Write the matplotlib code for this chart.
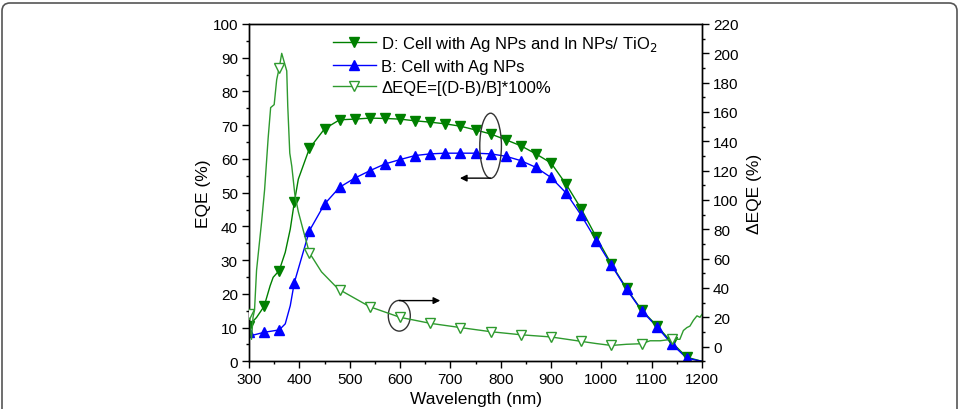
import matplotlib
matplotlib.use("Agg")
import matplotlib.pyplot as plt
from matplotlib.lines import Line2D
from matplotlib.patches import Ellipse, FancyBboxPatch
from matplotlib.ticker import MultipleLocator

plt.rcParams['font.family'] = ['Liberation Sans', 'DejaVu Sans']

# ---- data ----
mk_x = [300, 330, 360, 390, 420, 450, 480, 510, 540, 570, 600, 630, 660, 690, 720,
        750, 780, 810, 840, 870, 900, 930, 960, 990, 1020, 1050, 1080, 1110, 1140, 1170]
d_mk = [10.6, 16.3, 26.9, 47.1, 63.1, 68.9, 71.6, 71.8, 72.1, 72.0, 71.8, 71.3, 70.9, 70.4, 69.7,
        68.6, 67.4, 65.7, 63.9, 61.5, 58.8, 52.5, 45.2, 36.8, 28.8, 21.6, 15.2, 10.6, 5.6, 1.2]
b_mk = [8.6, 8.6, 9.3, 23.3, 38.7, 46.6, 51.6, 54.3, 56.5, 58.5, 59.8, 61.0, 61.5, 61.7, 61.7,
        61.7, 61.5, 60.8, 59.5, 57.5, 54.5, 49.9, 43.3, 35.8, 28.5, 21.4, 15.0, 10.3, 5.1, 0.9]

d_line_x = [300, 315, 330, 342, 348, 360, 372, 382, 390, 398, 420, 450, 480, 510, 540, 570, 600,
            630, 660, 690, 720, 750, 780, 810, 840, 870, 900, 930, 960, 990, 1020, 1050, 1080,
            1110, 1140, 1170, 1200]
d_line = [10.6, 13.0, 16.3, 22.4, 24.9, 26.9, 32.3, 39.2, 47.1, 54.0, 63.1, 68.9, 71.6, 71.8,
          72.1, 72.0, 71.8, 71.3, 70.9, 70.4, 69.7, 68.6, 67.4, 65.7, 63.9, 61.5, 58.8, 52.5,
          45.2, 36.8, 28.8, 21.6, 15.2, 10.6, 5.6, 1.2, 0.0]
b_line_x = [300, 304, 330, 360, 372, 382, 390, 420, 450, 480, 510, 540, 570, 600, 630, 660,
            690, 720, 750, 780, 810, 840, 870, 900, 930, 960, 990, 1020, 1050, 1080, 1110,
            1140, 1170, 1200]
b_line = [8.6, 7.6, 8.6, 9.3, 11.1, 16.5, 23.3, 38.7, 46.6, 51.6, 54.3, 56.5, 58.5, 59.8,
          61.0, 61.5, 61.7, 61.7, 61.7, 61.5, 60.8, 59.5, 57.5, 54.5, 49.9, 43.3, 35.8,
          28.5, 21.4, 15.0, 10.3, 5.1, 0.9, 0.0]

de_line_x = [300, 303, 305, 308, 311, 315, 318, 325, 331, 338, 343, 350, 355, 360, 365, 370,
             375, 377, 381, 385, 391, 398, 408, 420, 444, 471, 480, 540, 600, 660, 720, 780,
             840, 900, 960, 990, 1020, 1050, 1080, 1097, 1117, 1140, 1156, 1163, 1170, 1176,
             1183, 1190, 1196, 1200]
de_line = [22, 10, 5, 20, 25, 52, 62, 85, 107, 142, 163, 165, 182, 190, 200, 194, 188, 164,
           132, 123, 104, 92, 79, 64, 51, 41.5, 38.8, 27.2, 20.0, 15.9, 13.0, 10.2, 8.1, 6.6,
           3.6, 2.1, 0.8, 1.6, 2.0, 4.0, 4.0, 5.0, 5.0, 11, 13, 14, 18, 21, 20, 22]
de_mk_x = [300, 360, 420, 480, 540, 600, 660, 720, 780, 840, 900, 960, 1020, 1080, 1140]
de_mk = [22, 190, 64, 38.8, 27.2, 20.0, 15.9, 13.0, 10.2, 8.1, 6.6, 3.6, 0.8, 2.0, 5.0]

labels = ["D: Cell with Ag NPs and In NPs/ TiO$_2$",
          "B: Cell with Ag NPs",
          "\u0394EQE=[(D-B)/B]*100%"]

# ---- styles ----
c_d = '#008000'
c_b = '#0000ff'
c_de = '#2e9a2e'
ms = 7.5

fig = plt.figure(figsize=(9.59, 4.10), dpi=100)
ax = fig.add_axes([249/959, 1-362.3/410, 453/959, 337.3/410])
ax2 = ax.twinx()

ax.plot(d_line_x, d_line, color=c_d, lw=1.0, zorder=2)
ax.plot(mk_x, d_mk, ls='none', marker='v', ms=ms, color=c_d, zorder=3)
ax.plot(b_line_x, b_line, color=c_b, lw=1.0, zorder=2)
ax.plot(mk_x, b_mk, ls='none', marker='^', ms=ms, color=c_b, zorder=3)

ax2.plot(de_line_x, de_line, color=c_de, lw=1.0, zorder=2)
ax2.plot(de_mk_x, de_mk, ls='none', marker='v', ms=ms, mfc='white', mec=c_de, mew=1.0, zorder=3)

ax.set_xlim(300, 1200)
ax.set_ylim(0, 100)
ax2.set_ylim(-10, 220)

ax.xaxis.set_major_locator(MultipleLocator(100))
ax.xaxis.set_minor_locator(MultipleLocator(50))
ax.yaxis.set_major_locator(MultipleLocator(10))
ax.yaxis.set_minor_locator(MultipleLocator(5))
ax2.yaxis.set_major_locator(MultipleLocator(20))
ax2.yaxis.set_minor_locator(MultipleLocator(10))
ax2.set_yticks(list(range(0, 221, 20)))

for a in (ax, ax2):
    a.tick_params(which='major', direction='out', length=5, width=1, labelsize=11, pad=3)
    a.tick_params(which='minor', direction='out', length=2.5, width=1)
    for s in a.spines.values():
        s.set_linewidth(1.0)

ax.set_xlabel("Wavelength (nm)", fontsize=12.5, labelpad=3)
ax.set_ylabel("EQE (%)", fontsize=12.5, labelpad=1)
ax2.set_ylabel("\u0394EQE (%)", fontsize=12.5, labelpad=6)

# ellipses and arrows
ax.add_patch(Ellipse((780, 63.9), 43, 19.3, fill=False, ec='#333333', lw=1.0, zorder=4))
ax.annotate('', xy=(719, 54.3), xytext=(780, 54.3),
            arrowprops=dict(arrowstyle='-|>', color='black', lw=1.0, mutation_scale=10,
                            shrinkA=0, shrinkB=0), zorder=4)
ax.add_patch(Ellipse((598.6, 13.5), 43.7, 9.1, fill=False, ec='#333333', lw=1.0, zorder=4))
ax.annotate('', xy=(680, 18.0), xytext=(598.6, 18.0),
            arrowprops=dict(arrowstyle='-|>', color='black', lw=1.0, mutation_scale=10,
                            shrinkA=0, shrinkB=0), zorder=4)

handles = [Line2D([], [], color=c_d, lw=1.0, marker='v', ms=ms),
           Line2D([], [], color=c_b, lw=1.0, marker='^', ms=ms),
           Line2D([], [], color=c_de, lw=1.0, marker='v', ms=ms, mfc='white', mec=c_de)]
ax2.legend(handles, labels, loc='upper left', bbox_to_anchor=(0.17, 0.99), frameon=False,
           fontsize=12, handlelength=2.6, labelspacing=0.35, handletextpad=0.3,
           borderaxespad=0)

frame = FancyBboxPatch((0.02, -0.3), 9.55, 4.36, boxstyle='round,pad=0,rounding_size=0.08',
                       transform=fig.dpi_scale_trans, fill=False, ec='#555555', lw=1.2)
fig.patches.append(frame)

fig.savefig("out.png", dpi=100)
